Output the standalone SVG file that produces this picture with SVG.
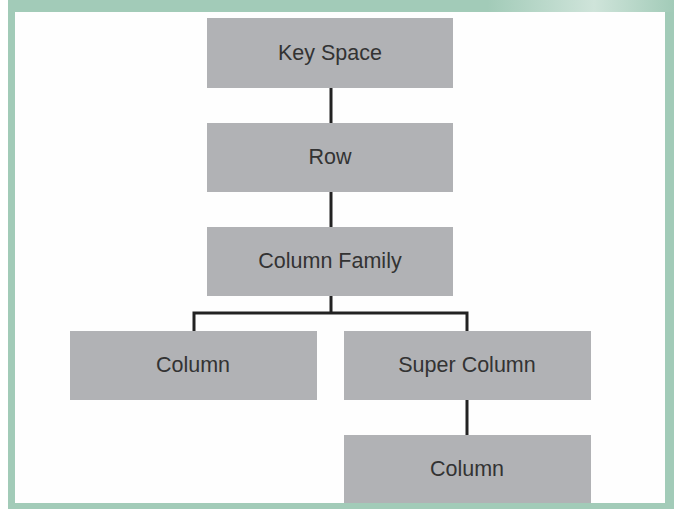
<svg xmlns="http://www.w3.org/2000/svg" width="674" height="509" viewBox="0 0 674 509">
<defs>
<linearGradient id="topg" x1="0" y1="0" x2="1" y2="0">
<stop offset="0" stop-color="#a2cbb8"/>
<stop offset="0.72" stop-color="#a2cbb8"/>
<stop offset="0.88" stop-color="#cfe4da"/>
<stop offset="1" stop-color="#a2cbb8"/>
</linearGradient>
</defs>
<style>
.box{fill:#b1b2b5;}
.lbl{font-family:"Liberation Sans",Arial,sans-serif;font-size:21.5px;fill:#333;text-anchor:middle;}
.conn{fill:none;stroke:#222;stroke-width:3;}
</style>
<rect x="0" y="0" width="674" height="509" fill="#fff"/>
<g id="frame">
<rect x="8" y="0" width="666" height="509" fill="#a2cbb8"/>
<rect x="8" y="0" width="666" height="12" fill="url(#topg)"/>
<rect x="15" y="12" width="650" height="491" fill="#fefefe"/>
</g>
<g id="connectors">
<line class="conn" x1="331" y1="88" x2="331" y2="123"/>
<line class="conn" x1="331" y1="192" x2="331" y2="227"/>
<polyline class="conn" points="331,296 331,313"/>
<polyline class="conn" points="194,331 194,313 467,313 467,331"/>
<line class="conn" x1="467" y1="400" x2="467" y2="435"/>
</g>
<g id="keyspace">
<rect class="box" x="207" y="18" width="246" height="70"/>
<text class="lbl" x="330" y="60">Key Space</text>
</g>
<g id="row">
<rect class="box" x="207" y="123" width="246" height="69"/>
<text class="lbl" x="330" y="164">Row</text>
</g>
<g id="columnfamily">
<rect class="box" x="207" y="227" width="246" height="69"/>
<text class="lbl" x="330" y="268">Column Family</text>
</g>
<g id="column1">
<rect class="box" x="70" y="331" width="247" height="69"/>
<text class="lbl" x="193" y="372">Column</text>
</g>
<g id="supercolumn">
<rect class="box" x="344" y="331" width="247" height="69"/>
<text class="lbl" x="467" y="372">Super Column</text>
</g>
<g id="column2">
<rect class="box" x="344" y="435" width="247" height="68"/>
<text class="lbl" x="467" y="476">Column</text>
</g>
</svg>
